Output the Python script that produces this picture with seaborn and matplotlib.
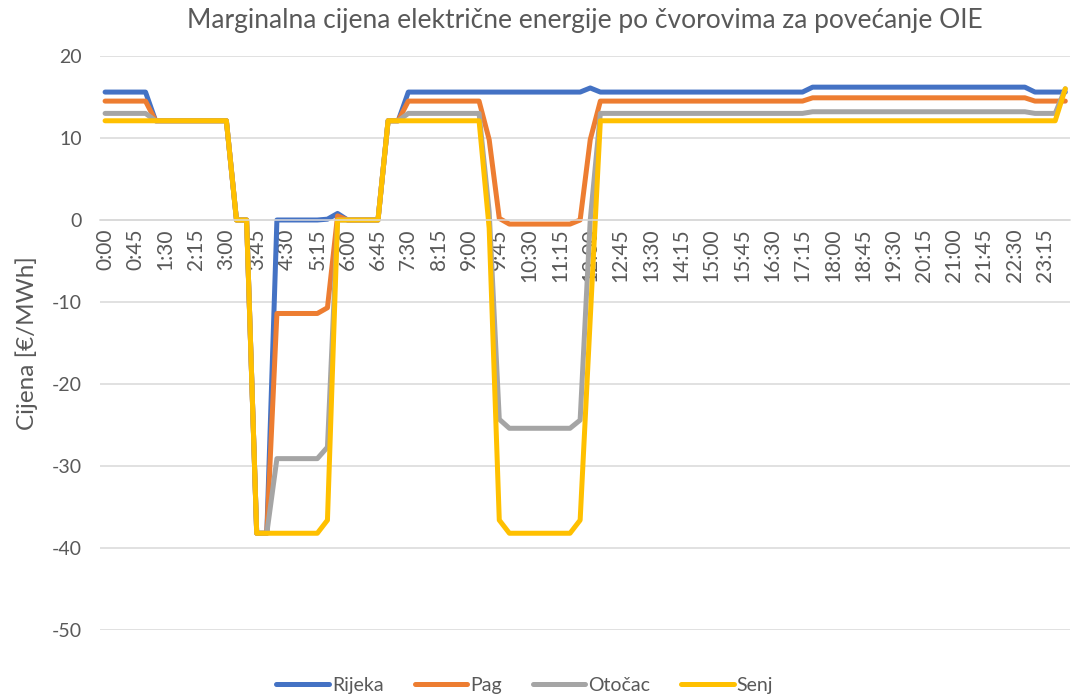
import pandas as pd
import numpy as np
import matplotlib.pyplot as plt
import seaborn as sns

# 15-minute intervals over one day
time_labels = [f"{h}:{m:02d}" for h in range(24) for m in (0, 15, 30, 45)]

rijeka = [15.6, 15.6, 15.6, 15.6, 15.6, 12.1, 12.1, 12.1, 12.1, 12.1, 12.1, 12.1,
          12.1, 0.0, 0.0, -38.2, -38.2, 0.0, 0.0, 0.0, 0.0, 0.0, 0.1, 0.8,
          0.0, 0.0, 0.0, 0.0, 12.1, 12.1, 15.6, 15.6, 15.6, 15.6, 15.6, 15.6,
          15.6, 15.6, 15.6, 15.6, 15.6, 15.6, 15.6, 15.6, 15.6, 15.6, 15.6, 15.6,
          16.1, 15.6, 15.6, 15.6, 15.6, 15.6, 15.6, 15.6, 15.6, 15.6, 15.6, 15.6,
          15.6, 15.6, 15.6, 15.6, 15.6, 15.6, 15.6, 15.6, 15.6, 15.6, 16.2, 16.2,
          16.2, 16.2, 16.2, 16.2, 16.2, 16.2, 16.2, 16.2, 16.2, 16.2, 16.2, 16.2,
          16.2, 16.2, 16.2, 16.2, 16.2, 16.2, 16.2, 16.2, 15.6, 15.6, 15.6, 15.6]

pag = [14.5, 14.5, 14.5, 14.5, 14.5, 12.1, 12.1, 12.1, 12.1, 12.1, 12.1, 12.1,
       12.1, 0.0, 0.0, -38.2, -38.2, -11.4, -11.4, -11.4, -11.4, -11.4, -10.7, 0.5,
       0.0, 0.0, 0.0, 0.0, 12.1, 12.1, 14.5, 14.5, 14.5, 14.5, 14.5, 14.5,
       14.5, 14.5, 9.8, 0.2, -0.5, -0.5, -0.5, -0.5, -0.5, -0.5, -0.5, 0.0,
       9.8, 14.5, 14.5, 14.5, 14.5, 14.5, 14.5, 14.5, 14.5, 14.5, 14.5, 14.5,
       14.5, 14.5, 14.5, 14.5, 14.5, 14.5, 14.5, 14.5, 14.5, 14.5, 14.9, 14.9,
       14.9, 14.9, 14.9, 14.9, 14.9, 14.9, 14.9, 14.9, 14.9, 14.9, 14.9, 14.9,
       14.9, 14.9, 14.9, 14.9, 14.9, 14.9, 14.9, 14.9, 14.5, 14.5, 14.5, 14.5]

otocac = [13.0, 13.0, 13.0, 13.0, 13.0, 12.1, 12.1, 12.1, 12.1, 12.1, 12.1, 12.1,
          12.1, 0.0, 0.0, -38.2, -38.2, -29.1, -29.1, -29.1, -29.1, -29.1, -27.7, 0.0,
          0.0, 0.0, 0.0, 0.0, 12.1, 12.1, 13.0, 13.0, 13.0, 13.0, 13.0, 13.0,
          13.0, 13.0, 1.0, -24.3, -25.4, -25.4, -25.4, -25.4, -25.4, -25.4, -25.4, -24.4,
          0.0, 13.0, 13.0, 13.0, 13.0, 13.0, 13.0, 13.0, 13.0, 13.0, 13.0, 13.0,
          13.0, 13.0, 13.0, 13.0, 13.0, 13.0, 13.0, 13.0, 13.0, 13.0, 13.2, 13.2,
          13.2, 13.2, 13.2, 13.2, 13.2, 13.2, 13.2, 13.2, 13.2, 13.2, 13.2, 13.2,
          13.2, 13.2, 13.2, 13.2, 13.2, 13.2, 13.2, 13.2, 13.0, 13.0, 13.0, 16.0]

senj = [12.1, 12.1, 12.1, 12.1, 12.1, 12.1, 12.1, 12.1, 12.1, 12.1, 12.1, 12.1,
        12.1, 0.0, 0.0, -38.2, -38.2, -38.2, -38.2, -38.2, -38.2, -38.2, -36.6, 0.0,
        0.0, 0.0, 0.0, 0.0, 12.1, 12.1, 12.1, 12.1, 12.1, 12.1, 12.1, 12.1,
        12.1, 12.1, -1.0, -36.6, -38.2, -38.2, -38.2, -38.2, -38.2, -38.2, -38.2, -36.6,
        -12.0, 12.1, 12.1, 12.1, 12.1, 12.1, 12.1, 12.1, 12.1, 12.1, 12.1, 12.1,
        12.1, 12.1, 12.1, 12.1, 12.1, 12.1, 12.1, 12.1, 12.1, 12.1, 12.1, 12.1,
        12.1, 12.1, 12.1, 12.1, 12.1, 12.1, 12.1, 12.1, 12.1, 12.1, 12.1, 12.1,
        12.1, 12.1, 12.1, 12.1, 12.1, 12.1, 12.1, 12.1, 12.1, 12.1, 12.1, 16.0]

nodes = ["Rijeka", "Pag", "Otočac", "Senj"]
colors = ["#4472C4", "#ED7D31", "#A5A5A5", "#FFC000"]

# long-form table for seaborn
idx = np.arange(len(time_labels))
df = pd.concat([
    pd.DataFrame({"t": idx, "cijena": vals, "cvor": name})
    for name, vals in zip(nodes, [rijeka, pag, otocac, senj])
], ignore_index=True)

sns.set_style("white")
plt.rcParams["font.family"] = ["Lato", "DejaVu Sans"]
plt.rcParams["axes.unicode_minus"] = False
text_col = "#595959"

fig = plt.figure(figsize=(10.71, 6.99), dpi=100)
ax = fig.add_axes([0.0934, 0.0987, 0.906, 0.8212])

sns.lineplot(data=df, x="t", y="cijena", hue="cvor", hue_order=nodes,
             palette=colors, linewidth=3.6, ax=ax, legend=False,
             solid_joinstyle="round", solid_capstyle="round")

ax.set_xlim(-0.5, len(time_labels) - 0.5)
ax.set_ylim(-50, 20)
ax.set_yticks(range(-50, 21, 10))
ax.yaxis.grid(True, color="#D9D9D9", linewidth=1.1)
ax.set_axisbelow(True)

# category axis crossing at zero, labels every 3rd interval
for s in ["top", "right", "left"]:
    ax.spines[s].set_visible(False)
ax.spines["bottom"].set_position(("data", 0))
ax.spines["bottom"].set_color("#D9D9D9")
ax.spines["bottom"].set_linewidth(1.1)
ax.set_xticks(idx[::3])
ax.set_xticklabels(time_labels[::3], rotation=90, va="top", ha="center")
ax.tick_params(axis="x", length=0, pad=6, labelsize=15, colors=text_col)
ax.tick_params(axis="y", length=0, pad=13, labelsize=14, colors=text_col)

ax.set_xlabel("")
ax.set_ylabel("Cijena [€/MWh]", fontsize=17.5, color=text_col, labelpad=10)
ax.set_title("Marginalna cijena električne energije po čvorovima za povećanje OIE",
             fontsize=19, color=text_col, pad=20)

handles = [plt.Line2D([], [], color=c, linewidth=3.6, solid_capstyle="round") for c in colors]
fig.legend(handles, nodes, loc="lower center", bbox_to_anchor=(0.49, -0.018), ncol=4,
           frameon=False, fontsize=14, labelcolor=text_col, handlelength=2.7,
           handletextpad=0.15, columnspacing=1.6)

fig.savefig("out.png", dpi=100)
